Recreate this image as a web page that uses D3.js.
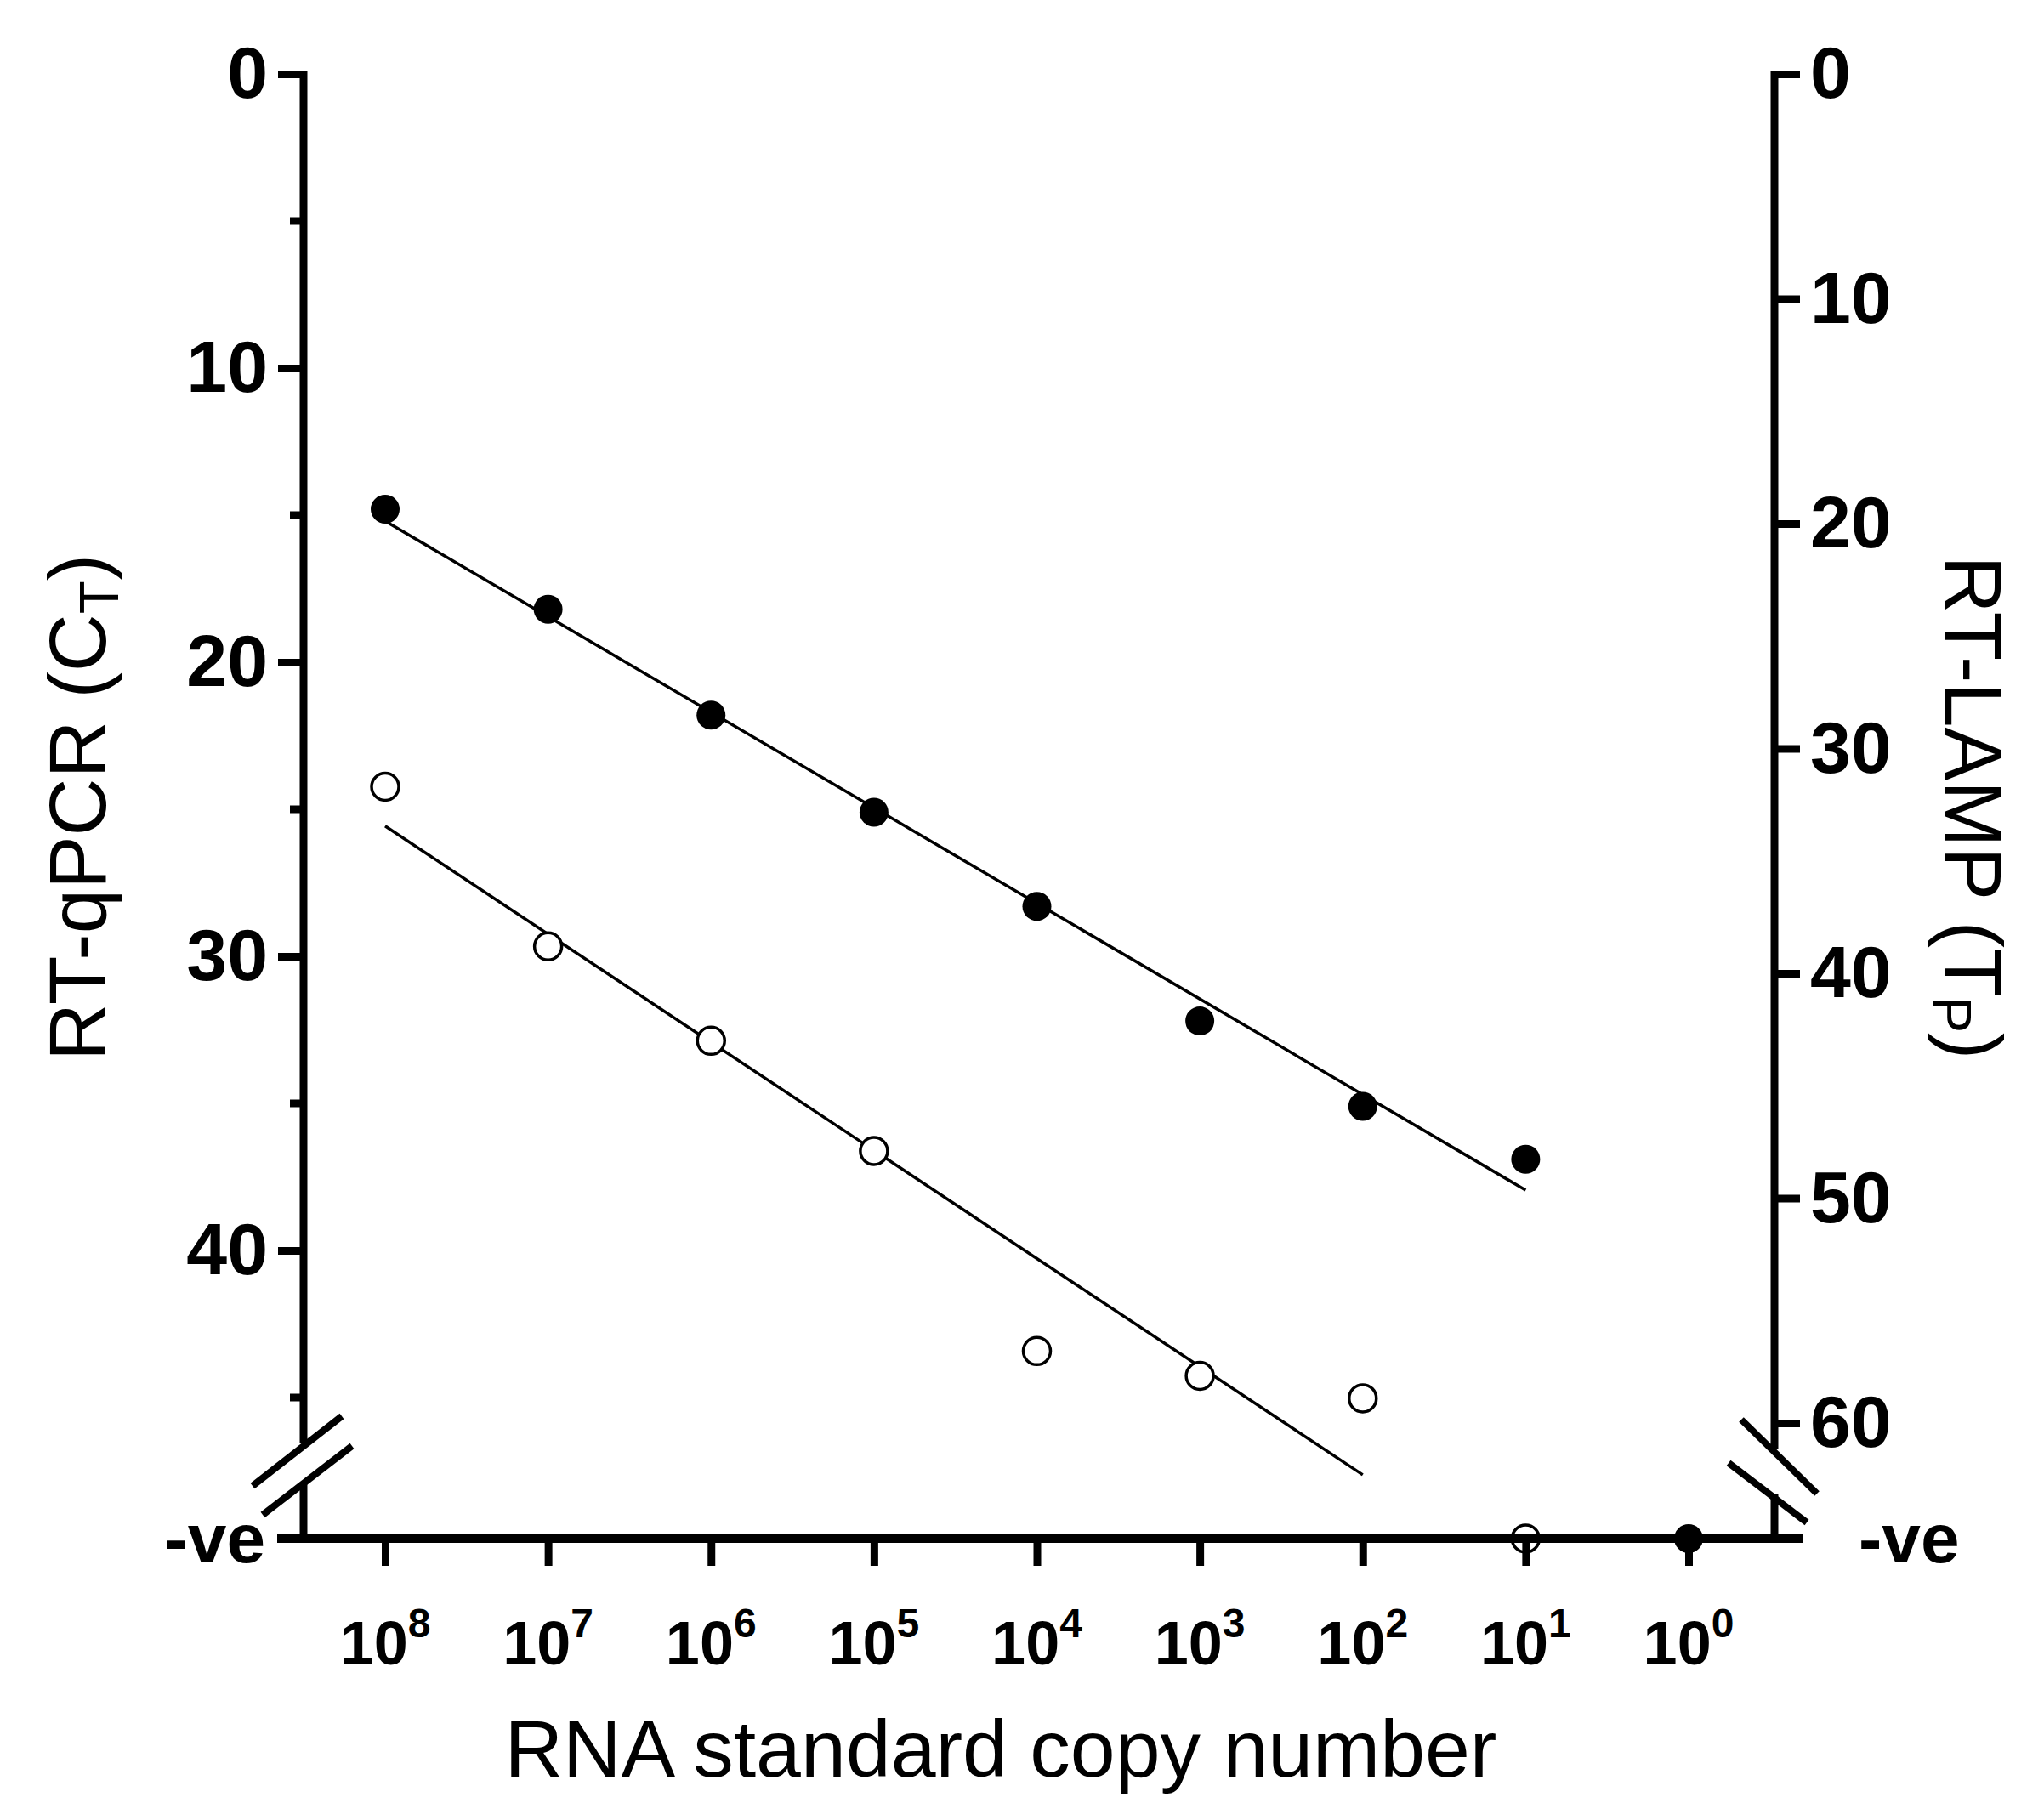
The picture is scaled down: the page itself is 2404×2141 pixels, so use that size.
<!DOCTYPE html>
<html><head><meta charset="utf-8">
<script src="https://cdn.jsdelivr.net/npm/d3@7"></script>
<style>body{margin:0;background:#fff}</style></head>
<body><script>
const copies = [1e8,1e7,1e6,1e5,1e4,1e3,1e2,1e1,1e0];
const xTickLabels = ["8","7","6","5","4","3","2","1","0"];
// null = negative (-ve)
const qpcrCt = [14.8,18.2,21.8,25.1,28.3,32.2,35.1,36.9,null];   // filled, left axis
const lampTp = [31.7,38.8,43.0,47.9,56.8,57.9,58.9,null];       // open, right axis
const qpcrFitX = [1e8,1e1], qpcrFitY = [15.2,37.95];
const lampFitX = [1e8,1e2], lampFitY = [33.45,62.3];
const leftTicks = [0,10,20,30,40], leftMinor = [5,15,25,35,45];
const rightTicks = [0,10,20,30,40,50,60];

const W=2404,H=2141, xAxisY=1810, lx=357, rx=2087;
const svg=d3.select("body").append("svg").attr("width",W).attr("height",H);
const x=d3.scaleLog().domain([1e8,1]).range([453,1986]);
const yL=d3.scaleLinear().domain([0,45]).range([87,87+45*34.6]);
const yR=d3.scaleLinear().domain([0,60]).range([87,1674]);
const F="'Liberation Sans',Arial,sans-serif";
const g=svg.append("g");
const line=(x1,y1,x2,y2,w)=>g.append("line").attr("x1",x1).attr("y1",y1).attr("x2",x2).attr("y2",y2).attr("stroke","#000").attr("stroke-width",w);

line(lx,yL(0)-4,lx,1697,9); line(lx,1746,lx,xAxisY+4,9);
line(rx,yR(0)-4,rx,1704,9); line(rx,1757,rx,xAxisY+4,9);
line(326,xAxisY,2120,xAxisY,10);
line(297,1748,402,1666,8); line(309,1782,414,1701,8);
line(2048,1670,2137,1757,8); line(2033,1721,2125,1791,8);

const aL=svg.append("g").attr("transform",`translate(${lx},0)`)
  .call(d3.axisLeft(yL).tickValues(leftTicks).tickSize(30).tickPadding(12));
aL.select(".domain").remove();
aL.selectAll(".tick line").attr("stroke-width",9);
aL.selectAll("text").attr("font-family",F).attr("font-weight","bold").attr("font-size",86);
leftMinor.forEach(v=>line(lx-16,yL(v),lx,yL(v),9));
const aR=svg.append("g").attr("transform",`translate(${rx},0)`)
  .call(d3.axisRight(yR).tickValues(rightTicks).tickSize(30).tickPadding(12));
aR.select(".domain").remove();
aR.selectAll(".tick line").attr("stroke-width",9);
aR.selectAll("text").attr("font-family",F).attr("font-weight","bold").attr("font-size",86);
svg.append("text").attr("x",312).attr("y",xAxisY+28).attr("text-anchor","end").attr("font-family",F).attr("font-weight","bold").attr("font-size",82).text("-ve");
svg.append("text").attr("x",2186).attr("y",xAxisY+28).attr("font-family",F).attr("font-weight","bold").attr("font-size",82).text("-ve");

const aX=svg.append("g").attr("transform",`translate(0,${xAxisY})`)
  .call(d3.axisBottom(x).tickValues(copies).tickSize(32).tickFormat(""));
aX.select(".domain").remove();
aX.selectAll(".tick line").attr("stroke-width",9);
copies.forEach((c,i)=>{
  const t=svg.append("text").attr("x",x(c)).attr("y",1958).attr("text-anchor","middle")
   .attr("font-family",F).attr("font-weight","bold").attr("font-size",72);
  t.append("tspan").text("10");
  t.append("tspan").attr("dy",-32).attr("font-size",48).text(xTickLabels[i]);
});

svg.append("text").attr("x",1177).attr("y",2090).attr("text-anchor","middle").attr("font-family",F).attr("font-size",95).text("RNA standard copy number");
const tl=svg.append("text").attr("transform","translate(124,950) rotate(-90)").attr("text-anchor","middle").attr("font-family",F).attr("font-size",94);
tl.append("tspan").text("RT-qPCR (C");tl.append("tspan").attr("font-size",64).attr("dy",15).text("T");tl.append("tspan").attr("dy",-15).text(")");
const tr=svg.append("text").attr("transform","translate(2288,950) rotate(90)").attr("text-anchor","middle").attr("font-family",F).attr("font-size",94);
tr.append("tspan").text("RT-LAMP (T");tr.append("tspan").attr("font-size",64).attr("dy",15).text("P");tr.append("tspan").attr("dy",-15).text(")");

const fl=d3.line();
svg.append("path").attr("d",fl(qpcrFitX.map((c,i)=>[x(c),yL(qpcrFitY[i])]))).attr("stroke","#000").attr("stroke-width",3.5).attr("fill","none");
svg.append("path").attr("d",fl(lampFitX.map((c,i)=>[x(c),yR(lampFitY[i])]))).attr("stroke","#000").attr("stroke-width",3.5).attr("fill","none");

svg.selectAll(".op").data(lampTp).enter().append("circle")
  .attr("cx",(d,i)=>x(copies[i])).attr("cy",d=>d==null?xAxisY:yR(d)).attr("r",16)
  .attr("fill","#fff").attr("fill-opacity",d=>d==null?0:1).attr("stroke","#000").attr("stroke-width",3.5);
svg.selectAll(".fp").data(qpcrCt).enter().append("circle")
  .attr("cx",(d,i)=>x(copies[i])).attr("cy",d=>d==null?xAxisY:yL(d)).attr("r",17).attr("fill","#000");
</script></body></html>
